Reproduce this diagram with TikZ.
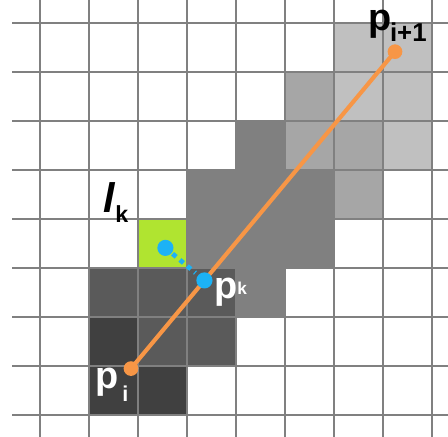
\documentclass[tikz,border=0pt]{standalone}
\usepackage{fontspec}
\setmainfont{Liberation Sans}
\usetikzlibrary{calc,positioning}
\definecolor{gridgray}{RGB}{128,128,128}
\definecolor{lightcell}{RGB}{192,192,192}
\definecolor{midcell}{RGB}{166,166,166}
\definecolor{darkcell}{RGB}{128,128,128}
\definecolor{darkercell}{RGB}{90,90,90}
\definecolor{darkestcell}{RGB}{64,64,64}
\definecolor{lkgreen}{RGB}{176,228,48}
\definecolor{segorange}{RGB}{247,150,70}
\definecolor{projblue}{RGB}{28,178,245}
\newcommand{\bigp}{\fontsize{22}{22}\selectfont p}

\begin{document}
\begin{tikzpicture}[every node/.style={inner sep=0pt, font=\bfseries},
    gridline/.style={draw=gridgray, line width=1.2pt},
    seg/.style={draw=segorange, line width=2.4pt},
    proj/.style={draw=projblue, line width=0.095cm, dash pattern=on 0.095cm off 0.1cm},
    odot/.style={circle, fill=segorange, minimum size=0.3cm},
    bdot/.style={circle, fill=projblue, minimum size=0.33cm}]
        \useasboundingbox (-0.816,-0.449) rectangle (8.327,8.469);

        % Cells hit by the segment, lighter further along
        \foreach \i/\j in {6/7,7/7,6/6,7/6,7/5}
            \fill[lightcell] (\i,\j) rectangle ++(1,1);
        \foreach \i/\j in {5/6,5/5,6/5,6/4}
            \fill[midcell] (\i,\j) rectangle ++(1,1);
        \foreach \i/\j in {4/5,3/4,4/4,5/4,3/3,4/3,5/3,4/2}
            \fill[darkcell] (\i,\j) rectangle ++(1,1);
        \foreach \i/\j in {1/2,2/2,3/2,2/1,3/1}
            \fill[darkercell] (\i,\j) rectangle ++(1,1);
        \foreach \i/\j in {1/1,1/0,2/0}
            \fill[darkestcell] (\i,\j) rectangle ++(1,1);
        \fill[lkgreen] (2,3) rectangle ++(1,1);

        % Pixel grid
        \foreach \k in {0,...,8} {
            \draw[gridline] (-0.571,\k) -- (8.327,\k);
            \draw[gridline] (\k,-0.449) -- (\k,8.469);
        }

        % Segment from p_i to p_{i+1}
        \coordinate (pi) at (1.857,0.947);
        \coordinate (pi1) at (7.245,7.414);
        \draw[seg] (pi) -- (pi1);
        \node (pidot) [odot] at (pi) {};
        \node (pi1dot) [odot] at (pi1) {};

        % Projection of the cell point onto the segment
        \coordinate (lk) at (2.56,3.41);
        \coordinate (pk) at ($(pi)!(lk)!(pi1)$);
        \draw[proj, shorten <=0.19cm, shorten >=0.24cm] (lk) -- (pk);
        \node (lkdot) [bdot] at (lk) {};
        \node (pkdot) [bdot] at (pk) {};

        % Labels
        \node (pilabel) [anchor=base west, text=white] at (1.13,0.531)
        {\bigp\kern2pt\raisebox{-7.5pt}{\fontsize{12.5}{12.5}\selectfont i}};
        \node (pi1label) [anchor=base west] at (6.70,7.85)
        {\bigp\kern-1pt\raisebox{-6.5pt}{\fontsize{15}{15}\selectfont i+1}};
        \node (lklabel) [anchor=base west] at (1.296,4.122)
        {\fontsize{24}{24}\selectfont\itshape l\upshape\raisebox{-5.8pt}{\fontsize{13.5}{13.5}\selectfont k}};
        \node (pklabel) [anchor=base west, text=white] at (3.55,2.38)
        {\bigp\raisebox{2pt}{\fontsize{10}{10}\selectfont k}};
      \end{tikzpicture}
\end{document}
